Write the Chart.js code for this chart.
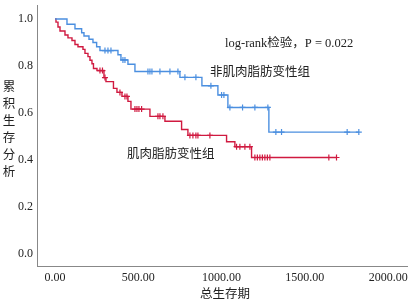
<!DOCTYPE html>
<html>
<head>
<meta charset="utf-8">
<script src="https://cdn.jsdelivr.net/npm/chart.js@4"></script>
<style>
  html, body { margin: 0; padding: 0; background: #fff; }
  #wrap { width: 413px; height: 303px; }
</style>
</head>
<body>
<div id="wrap"><canvas id="km"></canvas></div>
<script>
// event times and survival after each drop
var blueTimes = [0, 72, 120, 160, 174, 204, 228, 250, 270, 378, 396, 438, 480, 750, 882, 978, 1038, 1284];
var blueSurv  = [1.0, 0.978, 0.959, 0.942, 0.928, 0.914, 0.900, 0.882, 0.866, 0.848, 0.826, 0.808, 0.777, 0.752, 0.716, 0.677, 0.624, 0.519];
var blueCensor = [300, 318, 336, 408, 420, 558, 570, 582, 630, 690, 738, 780, 846, 936, 1000, 1014, 1050, 1126, 1200, 1278, 1326, 1360, 1754, 1824];

var redTimes = [0, 6, 18, 30, 60, 78, 102, 120, 138, 168, 180, 198, 210, 222, 231, 252, 294, 306, 351, 372, 402, 438, 456, 570, 660, 760, 798, 1030, 1080, 1180];
var redSurv  = [1.0, 0.987, 0.966, 0.949, 0.932, 0.920, 0.909, 0.892, 0.882, 0.871, 0.854, 0.840, 0.825, 0.810, 0.790, 0.781, 0.751, 0.734, 0.705, 0.688, 0.671, 0.650, 0.617, 0.586, 0.565, 0.530, 0.505, 0.478, 0.457, 0.411];
var redCensor = [270, 285, 300, 390, 420, 432, 480, 492, 504, 520, 618, 630, 648, 810, 828, 846, 858, 930, 1090, 1110, 1140, 1170, 1200, 1215, 1230, 1245, 1260, 1275, 1290, 1644, 1690];

var xTicks = [0, 500, 1000, 1500, 2000];
var yTicks = [0, 0.2, 0.4, 0.6, 0.8, 1.0];

var blueColor = '#4b8fe0';
var redColor = '#d01a40';

function survAt(times, surv, t) {
  var s = surv[0];
  for (var i = 0; i < times.length; i++) {
    if (times[i] <= t) s = surv[i];
  }
  return s;
}

function curve(times, surv, censor) {
  var pts = times.map(function (t, i) { return { x: t, y: surv[i] }; });
  var last = censor[censor.length - 1];
  if (last > times[times.length - 1]) pts.push({ x: last, y: surv[surv.length - 1] });
  return pts;
}

function marks(times, surv, censor) {
  return censor.map(function (t) { return { x: t, y: survAt(times, surv, t) }; });
}

var serif = "'Liberation Serif', 'Times New Roman', serif";
var cjk = "'Liberation Serif', 'Noto Sans CJK SC', serif";

var textPlugin = {
  id: 'texts',
  afterDraw: function (chart) {
    var c = chart.ctx;
    c.save();
    c.fillStyle = '#222';
    c.textBaseline = 'middle';
    c.font = '12.5px ' + cjk;
    c.textAlign = 'left';
    c.fillText('log-rank检验，P = 0.022', 225, 44);
    c.fillText('非肌肉脂肪变性组', 210, 73);
    c.fillText('肌肉脂肪变性组', 127, 155);
    c.textAlign = 'center';
    var yTitle = '累积生存分析';
    for (var i = 0; i < yTitle.length; i++) {
      c.fillText(yTitle[i], 9, 88 + i * 17);
    }
    c.fillText('总生存期', 225, 295);
    c.restore();
  }
};

new Chart(document.getElementById('km'), {
  type: 'line',
  data: {
    datasets: [
      {
        label: '非肌肉脂肪变性组',
        data: curve(blueTimes, blueSurv, blueCensor),
        borderColor: blueColor,
        borderWidth: 1.4,
        stepped: 'before',
        pointRadius: 0,
        fill: false
      },
      {
        label: '肌肉脂肪变性组',
        data: curve(redTimes, redSurv, redCensor),
        borderColor: redColor,
        borderWidth: 1.4,
        stepped: 'before',
        pointRadius: 0,
        fill: false
      },
      {
        label: 'blue censored',
        data: marks(blueTimes, blueSurv, blueCensor),
        showLine: false,
        pointStyle: 'cross',
        pointRadius: 3,
        borderColor: blueColor,
        borderWidth: 1.2
      },
      {
        label: 'red censored',
        data: marks(redTimes, redSurv, redCensor),
        showLine: false,
        pointStyle: 'cross',
        pointRadius: 3,
        borderColor: redColor,
        borderWidth: 1.2
      }
    ]
  },
  options: {
    responsive: true,
    maintainAspectRatio: false,
    animation: false,
    layout: { padding: { left: 0, right: 5, top: 3, bottom: 0 } },
    plugins: { legend: { display: false }, tooltip: { enabled: false } },
    scales: {
      x: {
        type: 'linear',
        min: -108,
        max: 2118,
        grid: { display: false, drawTicks: false },
        border: { display: true, color: '#888', width: 1 },
        afterBuildTicks: function (s) { s.ticks = xTicks.map(function (v) { return { value: v }; }); },
        afterFit: function (s) { s.height = 37; s.paddingLeft = 0; s.paddingRight = 0; },
        ticks: {
          padding: 5,
          color: '#222',
          font: { family: serif, size: 12 },
          maxRotation: 0,
          callback: function (v) { return Number(v).toFixed(2); }
        }
      },
      y: {
        type: 'linear',
        min: -0.0506,
        max: 1.059,
        grid: { display: false, drawTicks: false },
        border: { display: true, color: '#888', width: 1 },
        afterBuildTicks: function (s) { s.ticks = yTicks.map(function (v) { return { value: v }; }); },
        afterFit: function (s) { s.width = 37; s.paddingTop = 0; s.paddingBottom = 0; },
        ticks: {
          padding: 4,
          color: '#222',
          font: { family: serif, size: 12 },
          callback: function (v) { return Number(v).toFixed(1); }
        }
      }
    }
  },
  plugins: [textPlugin]
});
</script>
</body>
</html>
